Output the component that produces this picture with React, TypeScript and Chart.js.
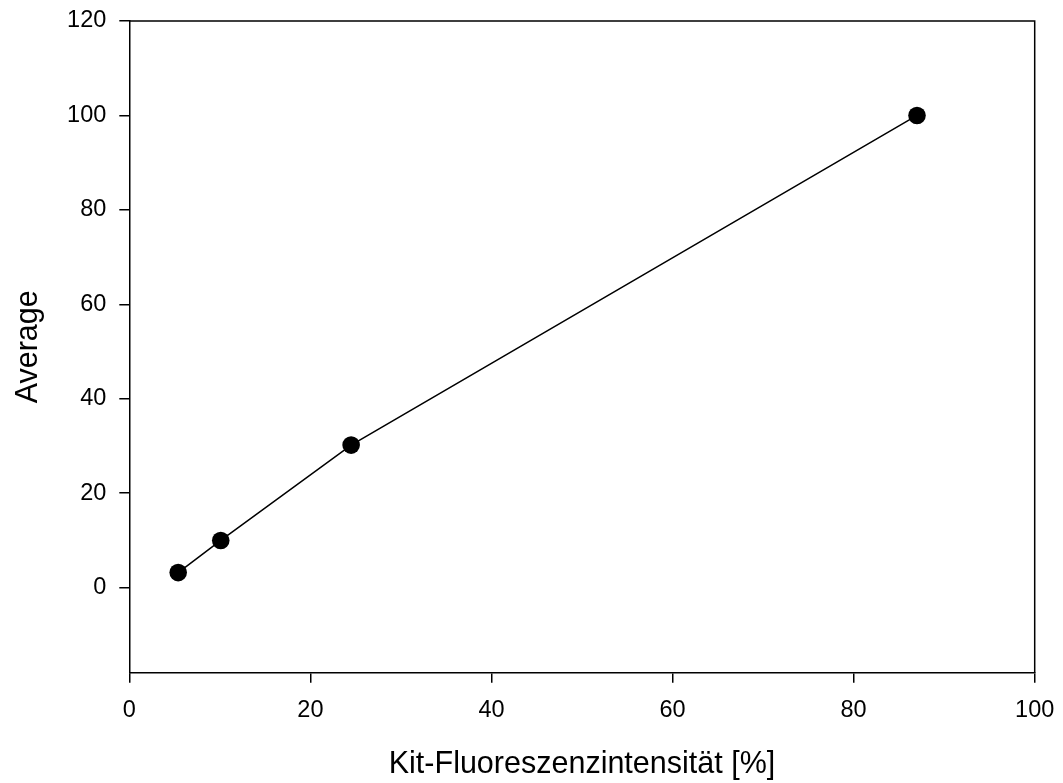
import React, { useEffect, useRef } from "react";
import { Chart, registerables } from "chart.js";

Chart.register(...registerables);

const xValues = [5.4, 10.1, 24.5, 87.0];
const yValues = [3.2, 10.0, 30.2, 100.0];
const yTickValues = [0, 20, 40, 60, 80, 100, 120];
const xTitle = "Kit-Fluoreszenzintensität [%]";
const yTitle = "Average";

const W = 1063;
const H = 783;
const FONT = "'Liberation Sans', Arial, sans-serif";

const frame = {
  id: "frame",
  afterDraw(chart: any) {
    const { ctx, chartArea } = chart;
    ctx.save();
    ctx.strokeStyle = "#000";
    ctx.lineWidth = 1.5;
    ctx.beginPath();
    ctx.moveTo(chartArea.left, chartArea.top);
    ctx.lineTo(chartArea.right, chartArea.top);
    ctx.lineTo(chartArea.right, chartArea.bottom);
    ctx.stroke();
    ctx.restore();
  },
};

export default function App() {
  const ref = useRef<HTMLCanvasElement | null>(null);
  useEffect(() => {
    if (!ref.current) return;
    const chart = new Chart(ref.current, {
      type: "scatter",
      data: {
        datasets: [
          {
            data: xValues.map((x, i) => ({ x, y: yValues[i] })),
            showLine: true,
            borderColor: "#000",
            borderWidth: 1.5,
            backgroundColor: "#000",
            pointBackgroundColor: "#000",
            pointBorderColor: "#000",
            pointRadius: 8.8,
            pointBorderWidth: 0,
          },
        ],
      },
      plugins: [frame],
      options: {
        responsive: false,
        animation: false,
        layout: { padding: { top: 21, right: 28.3, left: 0, bottom: 0 } },
        plugins: { legend: { display: false }, tooltip: { enabled: false } },
        scales: {
          x: {
            type: "linear",
            min: 0,
            max: 100,
            afterFit: (s: any) => {
              s.height = 110.3;
              s.paddingLeft = 0;
              s.paddingRight = 0;
            },
            ticks: {
              stepSize: 20,
              color: "#000",
              padding: 14,
              font: { family: FONT, size: 23.5 },
              maxRotation: 0,
            },
            grid: {
              drawOnChartArea: false,
              drawTicks: true,
              tickLength: 10,
              tickColor: "#000",
              lineWidth: 1.5,
            },
            border: { display: true, color: "#000", width: 1.5 },
            title: {
              display: true,
              text: xTitle,
              color: "#000",
              font: { family: FONT, size: 30.5 },
              padding: { top: 25, bottom: 0 },
            },
          },
          y: {
            type: "linear",
            min: -18,
            max: 120,
            afterFit: (s: any) => {
              s.width = 129.3;
              s.paddingTop = 0;
              s.paddingBottom = 0;
            },
            afterBuildTicks: (s: any) => {
              s.ticks = yTickValues.map((v) => ({ value: v }));
            },
            ticks: {
              color: "#000",
              padding: 13,
              font: { family: FONT, size: 23.5 },
            },
            grid: {
              drawOnChartArea: false,
              drawTicks: true,
              tickLength: 10,
              tickColor: "#000",
              lineWidth: 1.5,
            },
            border: { display: true, color: "#000", width: 1.5 },
            title: {
              display: true,
              text: yTitle,
              color: "#000",
              font: { family: FONT, size: 30.5 },
              padding: { top: 10, bottom: 0 },
            },
          },
        },
      },
    });
    return () => chart.destroy();
  }, []);
  return (
    <div style={{ position: "absolute", left: 0, top: 0, width: W, height: H, background: "#fff" }}>
      <canvas ref={ref} width={W} height={H} style={{ width: W, height: H, display: "block" }} />
    </div>
  );
}
